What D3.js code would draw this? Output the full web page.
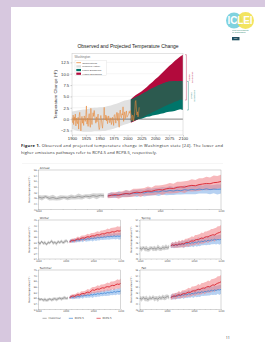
<!DOCTYPE html>
<html>
<head>
<meta charset="utf-8">
<script src="https://cdn.jsdelivr.net/npm/d3@7"></script>
<style>
html, body { margin: 0; padding: 0; background: #d7c8df; }
svg { display: block; }
svg text { opacity: 0.995; }
</style>
</head>
<body>
<svg id="page" width="265" height="342"></svg>
<script>
// ---- figure 1 data (deg F change vs 1901-1960) ----
var obsStart = 1900;
var obsTemp = [
  0.3, -0.8, 0.9, -1.2, 0.5, -0.3, 1.1, -1.5, 0.2, -0.6,
  -1.0, 0.4, -2.2, 0.8, 1.5, -0.4, -2.6, -0.2, 0.6, -0.9,
  0.1, -1.4, 0.7, 0.3, -0.5, 1.0, 2.9, -1.1, 0.2, -1.6,
  0.5, 1.2, -0.7, -1.8, 2.4, -0.3, -1.2, 0.4, 1.4, 0.6,
  1.9, 0.7, -0.2, -0.9, 0.5, -0.6, 0.3, 1.1, -1.5, -2.3,
  -1.9, 0.2, 0.8, -0.1, -1.3, -2.0, -0.4, 0.3, 2.6, 0.1,
  -0.2, 0.9, -0.4, 0.6, -1.0, -0.3, 0.7, 0.2, -0.8, -0.4,
  0.3, -1.2, -0.6, 0.4, -0.2, -1.4, 0.8, 1.0, 0.2, -0.9,
  1.1, 1.5, -0.3, 1.3, -0.7, -1.8, 1.4, 2.0, 0.6, 0.3,
  1.2, 0.9, 2.7, -0.5, 0.8, 1.6, 0.1, 1.0, 1.8, 0.4,
  0.6, 0.9, 1.1, 1.7, 1.3, 1.9, 1.2, 0.8, -0.3, 0.9,
  0.7, -0.4, 0.5, 1.4, 3.8, 4.1, 2.2, 0.9, 1.6, 0.5,
  1.3, 2.6
];
var modelYears = [1900, 1905, 1910, 1915, 1920, 1925, 1930, 1935, 1940, 1945, 1950,
                  1955, 1960, 1965, 1970, 1975, 1980, 1985, 1990, 1995, 2000, 2005];
var modelLo = [-2.2, -2.4, -2.6, -2.7, -2.8, -2.8, -2.8, -2.8, -2.7, -2.7, -2.7,
               -2.6, -2.6, -2.4, -2.3, -2.1, -1.9, -1.7, -1.4, -1.2, -1.0, -0.8];
var modelHi = [1.7, 1.8, 1.9, 2.0, 2.1, 2.1, 2.3, 2.4, 2.5, 2.5, 2.6,
               2.6, 2.7, 2.9, 3.0, 3.2, 3.4, 3.6, 3.9, 4.1, 4.2, 4.4];
var scenYears = [2006, 2010, 2015, 2020, 2025, 2030, 2035, 2040, 2045, 2050,
                 2055, 2060, 2065, 2070, 2075, 2080, 2085, 2090, 2095, 2100];
var lowerLo = [-0.6, -0.4, -0.2, 0.0, 0.1, 0.3, 0.5, 0.6, 0.8, 0.9,
               1.0, 1.2, 1.3, 1.5, 1.6, 1.7, 1.8, 2.0, 2.2, 2.0];
var lowerHi = [4.3, 4.5, 4.8, 5.1, 5.4, 5.8, 6.1, 6.5, 6.8, 7.1,
               7.4, 7.6, 7.9, 8.1, 8.3, 8.3, 8.4, 8.3, 8.4, 8.3];
var higherLo = [-0.8, -0.6, -0.3, 0.1, 0.3, 0.6, 0.9, 1.2, 1.5, 1.8,
                2.1, 2.4, 2.7, 3.0, 3.3, 3.5, 3.8, 4.0, 4.3, 4.2];
var higherHi = [4.4, 4.8, 5.3, 5.7, 6.1, 6.6, 7.1, 7.7, 8.2, 8.8,
                9.3, 9.9, 10.5, 11.1, 11.7, 12.2, 12.8, 13.3, 13.8, 14.2];
var fig1YTicks = [-2.5, 0, 2.5, 5, 7.5, 10, 12.5];
var fig1XTicks = [1900, 1925, 1950, 1975, 2000, 2025, 2050, 2075, 2100];
var fig1Legend = ['Observations', 'Modeled History', 'Lower Emissions', 'Higher Emissions'];

// ---- seasonal panels data (deg F) ----
var histYears = [1950, 1953, 1956, 1959, 1962, 1965, 1968, 1971, 1974, 1977,
                 1980, 1983, 1986, 1989, 1992, 1995, 1998, 2001, 2004];
var projYears = [2007, 2010, 2013, 2016, 2019, 2022, 2025, 2028, 2031, 2034, 2037,
                 2040, 2043, 2046, 2049, 2052, 2055, 2058, 2061, 2064, 2067, 2070,
                 2073, 2076, 2079, 2082, 2085, 2088, 2091, 2094, 2097, 2100];
var spreadHist = [0.7, 0.9, 0.6, 0.8, 1.0, 0.7, 0.9, 0.6, 0.8, 0.9, 0.7, 1.0, 0.8, 0.7, 0.9, 0.8, 1.0, 0.7, 0.8];
var spread45 = [0.8, 1.0, 0.9, 1.1, 0.9, 1.2, 1.0, 1.1, 1.3, 1.1, 1.2, 1.4, 1.2, 1.3, 1.5, 1.3,
                1.4, 1.6, 1.4, 1.5, 1.3, 1.6, 1.4, 1.7, 1.5, 1.6, 1.4, 1.7, 1.6, 1.5, 1.8, 1.6];
var spread85 = [0.8, 1.0, 0.9, 1.2, 1.0, 1.3, 1.1, 1.4, 1.2, 1.5, 1.3, 1.6, 1.4, 1.7, 1.5, 1.8,
                1.6, 1.9, 1.7, 2.0, 1.8, 2.1, 1.9, 2.2, 2.0, 2.3, 2.1, 2.4, 2.2, 2.5, 2.3, 2.4];

var annualTicks = [42, 44, 46, 48, 50, 52, 54, 56];
var annualHist = [46.4, 46.0, 46.5, 45.9, 46.2, 45.8, 46.1, 46.3, 46.0, 46.4, 46.2, 46.6, 46.3, 46.7, 46.5, 46.9, 46.6, 47.0, 46.8];
var annualRcp45 = [46.8, 47.1, 46.9, 47.3, 47.2, 47.6, 47.4, 47.8, 47.7, 48.0, 47.8, 48.2, 48.1, 48.3, 48.2, 48.6,
                   48.4, 48.7, 48.5, 48.8, 48.6, 49.0, 48.8, 49.1, 48.9, 49.2, 49.0, 49.3, 49.0, 49.2, 49.1, 49.2];
var annualRcp85 = [46.7, 47.0, 47.2, 47.0, 47.4, 47.6, 47.5, 47.9, 48.1, 47.9, 48.3, 48.5, 48.4, 48.8, 49.0, 48.9,
                   49.3, 49.5, 49.4, 49.8, 50.0, 49.9, 50.3, 50.5, 50.4, 50.8, 51.0, 51.2, 51.1, 51.5, 51.6, 51.9];

var winterTicks = [24, 27, 30, 33, 36, 39, 42, 45];
var winterHist = [33.2, 32.1, 33.5, 32.4, 32.9, 31.8, 33.0, 32.6, 33.8, 32.5, 33.1, 32.2, 33.4, 32.8, 33.6, 32.7, 33.3, 33.9, 33.0];
var winterRcp45 = [33.4, 33.9, 33.5, 34.1, 33.8, 34.4, 34.0, 34.6, 34.3, 34.9, 34.5, 35.0, 34.7, 35.3, 34.9, 35.4,
                   35.1, 35.7, 35.3, 35.8, 35.5, 36.0, 35.7, 36.2, 35.9, 36.3, 36.0, 36.5, 36.1, 36.4, 36.2, 36.4];
var winterRcp85 = [33.3, 33.8, 34.2, 33.9, 34.5, 34.8, 34.6, 35.1, 35.4, 35.2, 35.7, 36.0, 35.8, 36.3, 36.5, 36.4,
                   36.9, 37.1, 36.9, 37.4, 37.6, 37.5, 37.9, 38.2, 38.0, 38.4, 38.7, 38.5, 38.9, 39.2, 39.0, 39.2];

var springTicks = [40, 42, 44, 46, 48, 50, 52, 54];
var springHist = [43.9, 43.5, 44.1, 43.6, 43.8, 43.3, 43.7, 44.0, 43.6, 43.9, 43.5, 44.2, 43.8, 43.6, 44.1, 43.9, 44.3, 44.0, 44.4];
var springRcp45 = [44.7, 45.0, 44.8, 45.1, 44.9, 45.3, 45.1, 45.5, 45.2, 45.6, 45.4, 45.8, 45.5, 45.9, 45.7, 46.1,
                   45.8, 46.3, 46.0, 46.4, 46.2, 46.6, 46.3, 46.8, 46.5, 46.9, 46.7, 47.1, 46.8, 47.0, 46.9, 47.1];
var springRcp85 = [44.8, 45.1, 44.9, 45.2, 45.0, 45.4, 45.3, 45.5, 45.4, 45.8, 46.0, 45.9, 46.3, 46.5, 46.4, 46.8,
                   47.0, 46.9, 47.3, 47.5, 47.4, 47.8, 48.0, 47.9, 48.3, 48.5, 48.7, 48.6, 49.0, 49.3, 49.5, 49.8];

var summerTicks = [54, 57, 60, 63, 66, 69, 72, 75];
var summerHist = [59.8, 59.2, 59.5, 58.9, 59.3, 58.8, 59.1, 59.6, 59.0, 59.4, 59.7, 59.2, 59.6, 60.0, 59.5, 59.9, 60.2, 59.8, 60.1];
var summerRcp45 = [60.2, 60.6, 60.3, 60.8, 60.5, 61.0, 60.7, 61.3, 61.0, 61.5, 61.2, 61.7, 61.4, 61.9, 61.6, 62.1,
                   61.9, 62.4, 62.1, 62.6, 62.3, 62.8, 62.5, 63.0, 62.7, 63.2, 62.9, 63.5, 63.1, 63.6, 63.4, 63.8];
var summerRcp85 = [60.3, 60.8, 61.2, 60.9, 61.5, 61.8, 61.6, 62.2, 62.5, 62.3, 62.9, 63.2, 63.0, 63.7, 64.4, 64.1,
                   64.6, 64.9, 64.7, 65.2, 65.5, 65.3, 65.9, 66.1, 65.9, 66.5, 66.8, 66.6, 67.2, 67.5, 67.3, 67.9];

var fallTicks = [42, 44, 46, 48, 50, 52, 54, 56];
var fallHist = [46.0, 45.6, 46.2, 45.7, 45.9, 45.4, 46.1, 45.8, 46.3, 45.7, 46.0, 45.6, 46.2, 45.9, 46.4, 46.0, 46.3, 46.6, 46.2];
var fallRcp45 = [46.3, 46.6, 46.4, 46.8, 46.6, 47.0, 46.8, 47.2, 47.0, 47.4, 47.1, 47.6, 47.3, 47.7, 47.5, 47.9,
                 47.7, 48.1, 47.8, 48.3, 48.0, 48.4, 48.2, 48.6, 48.4, 48.8, 48.5, 48.9, 48.7, 49.0, 48.9, 49.1];
var fallRcp85 = [46.2, 46.5, 46.8, 46.6, 47.0, 47.2, 47.0, 47.4, 47.6, 47.5, 47.9, 48.1, 48.0, 48.4, 48.6, 48.5,
                 48.9, 49.1, 49.0, 49.4, 49.6, 49.5, 49.9, 50.1, 50.0, 50.4, 50.7, 50.6, 51.0, 51.3, 51.5, 51.8];

var panelXTicks = [1950, 2000, 2050, 2100];
var panelLegend = ['Historical', 'RCP4.5', 'RCP8.5'];

var svg = d3.select('#page');

// white page
svg.append('rect').attr('x', 11).attr('y', 7).attr('width', 254).attr('height', 335).attr('fill', '#fff');

// ---- ICLEI logo ----
var logo = svg.append('g');
logo.append('circle').attr('cx', 234).attr('cy', 20.5).attr('r', 8).attr('fill', '#7fd2df');
logo.append('circle').attr('cx', 245.5).attr('cy', 20.5).attr('r', 8.5).attr('fill', '#f1e04a').attr('opacity', 0.88);
logo.append('text').attr('x', 240).attr('y', 24.3).attr('text-anchor', 'middle')
  .attr('font-family', 'Liberation Sans, Arial, sans-serif').attr('font-weight', 'bold')
  .attr('font-size', 10).attr('fill', '#fff').attr('textLength', 25).text('ICLEI');
logo.append('text').attr('x', 232).attr('y', 31).attr('font-family', 'Liberation Sans, sans-serif')
  .attr('font-size', 1.9).attr('fill', '#2e8b6f').text('Local Governments');
logo.append('text').attr('x', 232).attr('y', 33.2).attr('font-family', 'Liberation Sans, sans-serif')
  .attr('font-size', 1.9).attr('fill', '#2e8b6f').text('for Sustainability');
logo.append('rect').attr('x', 232).attr('y', 37).attr('width', 7.5).attr('height', 3.3).attr('fill', '#1f4f5e');
logo.append('text').attr('x', 235.75).attr('y', 39.4).attr('text-anchor', 'middle')
  .attr('font-family', 'Liberation Sans, sans-serif').attr('font-size', 2).attr('fill', '#fff').text('USA');

// ---- Figure 1: observed and projected ----
var f1 = svg.append('g').attr('font-family', 'Liberation Sans, Arial, sans-serif');
var x = d3.scaleLinear().domain([1900, 2100]).range([72, 183]);
var y = d3.scaleLinear().domain([-3.5, 14.5]).range([135, 53.3]);

f1.append('text').attr('x', 128).attr('y', 47.6).attr('text-anchor', 'middle')
  .attr('font-size', 5).attr('fill', '#222').attr('textLength', 101)
  .text('Observed and Projected Temperature Change');

f1.append('rect').attr('x', 72).attr('y', 53.3).attr('width', 111).attr('height', 81.7).attr('fill', '#fff');

f1.selectAll('.grid').data(fig1YTicks).enter().append('line')
  .attr('x1', 72).attr('x2', 183)
  .attr('y1', function(d) { return y(d); }).attr('y2', function(d) { return y(d); })
  .attr('stroke', '#e6e6e6').attr('stroke-width', 0.4);

f1.append('path').datum(modelYears)
  .attr('d', d3.area().x(function(d) { return x(d); })
    .y0(function(d, i) { return y(modelLo[i]); })
    .y1(function(d, i) { return y(modelHi[i]); }))
  .attr('fill', '#e1e1e1');

var scenArea = function(lo, hi) {
  return d3.area().x(function(d) { return x(d); })
    .y0(function(d, i) { return y(lo[i]); })
    .y1(function(d, i) { return y(hi[i]); });
};
f1.append('path').datum(scenYears).attr('d', scenArea(higherLo, higherHi)).attr('fill', '#b20a3c');
f1.append('path').datum(scenYears).attr('d', scenArea(lowerLo, lowerHi)).attr('fill', '#00756a');
var overlapLo = lowerLo.map(function(v, i) { return Math.max(v, higherLo[i]); });
var overlapHi = lowerHi.map(function(v, i) { return Math.min(v, higherHi[i]); });
f1.append('path').datum(scenYears).attr('d', scenArea(overlapLo, overlapHi)).attr('fill', '#2c5a4f');

f1.append('line').attr('x1', 72).attr('x2', 183).attr('y1', y(0)).attr('y2', y(0))
  .attr('stroke', '#3a3a3a').attr('stroke-width', 0.6);

f1.append('path').datum(obsTemp)
  .attr('d', d3.line().x(function(d, i) { return x(obsStart + i); }).y(function(d) { return y(d); }))
  .attr('fill', 'none').attr('stroke', '#e8893a').attr('stroke-width', 0.6);

f1.append('rect').attr('x', 72).attr('y', 53.3).attr('width', 111).attr('height', 81.7)
  .attr('fill', 'none').attr('stroke', '#c8c8c8').attr('stroke-width', 0.5);

f1.append('text').attr('x', 74.5).attr('y', 57.8).attr('font-size', 3).attr('fill', '#777').text('Washington');

// legend
var lg = f1.append('g');
lg.append('rect').attr('x', 75).attr('y', 60.6).attr('width', 31.7).attr('height', 15.2)
  .attr('fill', '#fff').attr('stroke', '#cfcfcf').attr('stroke-width', 0.3);
var legColors = ['#e8893a', '#dedede', '#00756a', '#b20a3c'];
fig1Legend.forEach(function(name, i) {
  var ly = 62.7 + i * 3.67;
  if (i === 0) {
    lg.append('line').attr('x1', 76.3).attr('x2', 81).attr('y1', ly).attr('y2', ly)
      .attr('stroke', legColors[i]).attr('stroke-width', 0.8);
  } else {
    lg.append('rect').attr('x', 76.3).attr('y', ly - 1.1).attr('width', 4.7).attr('height', 2.2).attr('fill', legColors[i]);
  }
  lg.append('text').attr('x', 82.3).attr('y', ly + 0.9).attr('font-size', 2.5).attr('fill', '#444').text(name);
});

// axes
var yAx = f1.append('g').attr('transform', 'translate(72,0)')
  .call(d3.axisLeft(y).tickValues(fig1YTicks).tickFormat(d3.format('.1f')).tickSize(1.5).tickPadding(1.3));
var xAx = f1.append('g').attr('transform', 'translate(0,135)')
  .call(d3.axisBottom(x).tickValues(fig1XTicks).tickFormat(d3.format('d')).tickSize(1.5).tickPadding(0.8));
[yAx, xAx].forEach(function(a) {
  a.attr('font-size', 4.2).attr('font-family', 'Liberation Sans, Arial, sans-serif');
  a.select('.domain').remove();
  a.selectAll('line').attr('stroke', '#888').attr('stroke-width', 0.4);
  a.selectAll('text').attr('fill', '#333');
});

f1.append('text').attr('transform', 'translate(56.5,94.5) rotate(-90)').attr('text-anchor', 'middle')
  .attr('font-size', 4.3).attr('fill', '#333').text('Temperature Change (\u00B0F)');

// range brackets at 2100
var last = scenYears.length - 1;
var bracket = function(bx, lo, hi, color, lines, tx) {
  var y0 = y(hi), y1 = y(lo);
  f1.append('path').attr('d', 'M' + (bx - 1.4) + ',' + y0 + 'H' + bx + 'V' + y1 + 'H' + (bx - 1.4))
    .attr('fill', 'none').attr('stroke', color).attr('stroke-width', 0.45);
  lines.forEach(function(t, k) {
    f1.append('text').attr('transform', 'translate(' + (tx + k * 2.9) + ',' + ((y0 + y1) / 2) + ') rotate(-90)')
      .attr('text-anchor', 'middle').attr('font-size', 2.5).attr('fill', color).text(t);
  });
};
bracket(186.4, higherLo[last], higherHi[last], '#c4335d', ['Higher', 'Emissions'], 189.6);
bracket(188.4, lowerLo[last], lowerHi[last], '#2a8f86', ['Lower', 'Emissions'], 192.2);

// ---- caption ----
var cap = svg.append('g').attr('font-family', 'Open Sans, sans-serif').attr('font-size', 4).attr('fill', '#2a2a2a');
var c1 = cap.append('text').attr('x', 21).attr('y', 147.4).attr('textLength', 202).attr('lengthAdjust', 'spacing');
c1.append('tspan').attr('font-weight', 'bold').attr('fill', '#222').text('Figure 1.');
c1.append('tspan').text(' Observed and projected temperature change in Washington state [24]. The lower and');
cap.append('text').attr('x', 21).attr('y', 154).attr('textLength', 136).attr('lengthAdjust', 'spacing')
  .text('higher emissions pathways refer to RCP4.5 and RCP8.5, respectively.');

// ---- seasonal figure ----
svg.append('line').attr('x1', 22).attr('x2', 223).attr('y1', 163.5).attr('y2', 163.5)
  .attr('stroke', '#ececec').attr('stroke-width', 0.5);

var panels = [
  { name: 'Annual', x0: 38.3, x1: 221, y0: 170, y1: 209.3, ticks: annualTicks, hist: annualHist, r45: annualRcp45, r85: annualRcp85 },
  { name: 'Winter', x0: 38.3, x1: 120.7, y0: 220, y1: 259, ticks: winterTicks, hist: winterHist, r45: winterRcp45, r85: winterRcp85 },
  { name: 'Spring', x0: 140, x1: 221, y0: 220, y1: 259, ticks: springTicks, hist: springHist, r45: springRcp45, r85: springRcp85 },
  { name: 'Summer', x0: 38.3, x1: 120.7, y0: 270, y1: 309.3, ticks: summerTicks, hist: summerHist, r45: summerRcp45, r85: summerRcp85 },
  { name: 'Fall', x0: 140, x1: 221, y0: 270, y1: 309.3, ticks: fallTicks, hist: fallHist, r45: fallRcp45, r85: fallRcp85 }
];

var drawPanel = function(p) {
  var g = svg.append('g').attr('font-family', 'DejaVu Sans, sans-serif');
  var px = d3.scaleLinear().domain([1950, 2100]).range([p.x0, p.x1]);
  var py = d3.scaleLinear().domain([p.ticks[0], p.ticks[p.ticks.length - 1]]).range([p.y1, p.y0]);

  var band = function(years, vals, spread) {
    return d3.area().x(function(d) { return px(d); })
      .y0(function(d, i) { return py(vals[i] - spread[i]); })
      .y1(function(d, i) { return py(vals[i] + spread[i]); })(years);
  };
  var line = function(years, vals) {
    return d3.line().x(function(d) { return px(d); }).y(function(d, i) { return py(vals[i]); })(years);
  };

  g.append('rect').attr('x', p.x0).attr('y', p.y0).attr('width', p.x1 - p.x0).attr('height', p.y1 - p.y0).attr('fill', '#fff');
  g.append('path').attr('d', band(histYears, p.hist, spreadHist)).attr('fill', '#c4c4c4').attr('opacity', 0.75);
  g.append('path').attr('d', band(projYears, p.r45, spread45)).attr('fill', '#86b2ea').attr('opacity', 0.6);
  g.append('path').attr('d', band(projYears, p.r85, spread85)).attr('fill', '#f07e84').attr('opacity', 0.55);
  g.append('path').attr('d', line(histYears, p.hist)).attr('fill', 'none').attr('stroke', '#8f8f8f').attr('stroke-width', 0.8);
  g.append('path').attr('d', line(projYears, p.r45)).attr('fill', 'none').attr('stroke', '#3f86d6').attr('stroke-width', 0.8);
  g.append('path').attr('d', line(projYears, p.r85)).attr('fill', 'none').attr('stroke', '#dc2a36').attr('stroke-width', 0.95);

  g.append('rect').attr('x', p.x0).attr('y', p.y0).attr('width', p.x1 - p.x0).attr('height', p.y1 - p.y0)
    .attr('fill', 'none').attr('stroke', '#8a8a8a').attr('stroke-width', 0.35);

  var ya = g.append('g').attr('transform', 'translate(' + p.x0 + ',0)')
    .call(d3.axisLeft(py).tickValues(p.ticks).tickSize(0.9).tickPadding(0.8));
  var xa = g.append('g').attr('transform', 'translate(0,' + p.y1 + ')')
    .call(d3.axisBottom(px).tickValues(panelXTicks).tickFormat(d3.format('d')).tickSize(0.9).tickPadding(0.6));
  var xm = g.append('g').attr('transform', 'translate(0,' + p.y1 + ')')
    .call(d3.axisBottom(px).ticks(15).tickFormat('').tickSize(0.5));
  [ya, xa, xm].forEach(function(a) {
    a.attr('font-size', 2.3).attr('font-family', 'DejaVu Sans, sans-serif');
    a.select('.domain').remove();
    a.selectAll('line').attr('stroke', '#777').attr('stroke-width', 0.3);
    a.selectAll('text').attr('fill', '#444');
  });

  g.append('text').attr('x', p.x0 + 1.5).attr('y', p.y0 - 0.9).attr('font-size', 2.8).attr('fill', '#333').text(p.name);
  g.append('text').attr('transform', 'translate(' + (p.x0 - 8.5) + ',' + ((p.y0 + p.y1) / 2) + ') rotate(-90)')
    .attr('text-anchor', 'middle').attr('font-size', 2.3).attr('fill', '#444').text('Mean temperature (\u00B0F)');
};
panels.forEach(drawPanel);

// panel legend
var pl = svg.append('g').attr('font-family', 'DejaVu Sans, sans-serif');
var plColors = ['#8f8f8f', '#3f86d6', '#dc2a36'];
var plX = [42.5, 68.8, 96.5];
panelLegend.forEach(function(name, i) {
  pl.append('line').attr('x1', plX[i]).attr('x2', plX[i] + 4.2).attr('y1', 318.3).attr('y2', 318.3)
    .attr('stroke', plColors[i]).attr('stroke-width', 0.7);
  pl.append('text').attr('x', plX[i] + 6).attr('y', 319.2).attr('font-size', 2.6).attr('fill', '#444').text(name);
});

// page number
svg.append('text').attr('x', 227.7).attr('y', 338.6).attr('text-anchor', 'middle')
  .attr('font-family', 'Open Sans, sans-serif').attr('font-size', 3.6).attr('fill', '#222').text('11');
</script>
</body>
</html>
